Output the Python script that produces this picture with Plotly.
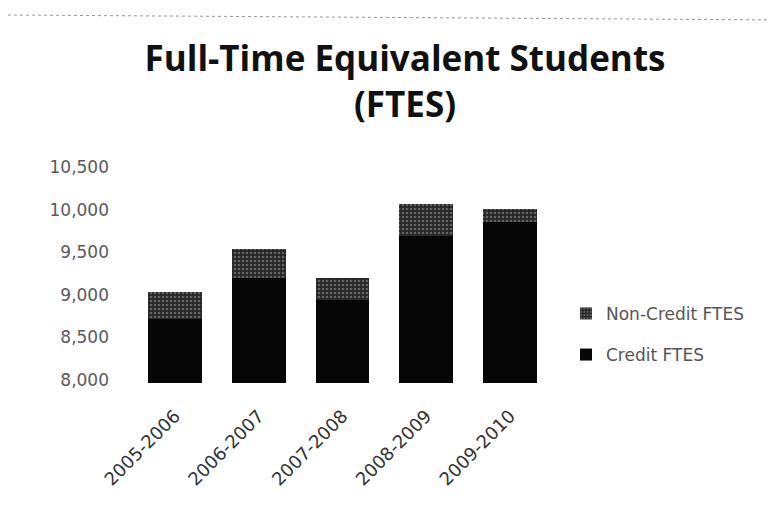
import plotly.graph_objects as go

categories = ["2005-2006", "2006-2007", "2007-2008", "2008-2009", "2009-2010"]
credit_ftes = [8720, 9200, 8935, 9690, 9860]
noncredit_ftes = [310, 340, 265, 380, 145]
y_ticks = [8000, 8500, 9000, 9500, 10000, 10500]
y_tick_labels = ["8,000", "8,500", "9,000", "9,500", "10,000", "10,500"]

L, R, T, B = 125, 234, 159, 150
PW = 778 - L - R
PH = 525 - T - B

fig = go.Figure()
fig.add_bar(
    name="Credit FTES", x=categories, y=credit_ftes,
    marker=dict(color="#060606", line=dict(width=0)),
    legendgroup="credit", legendrank=2,
)
fig.add_bar(
    name="Non-Credit FTES", x=categories, y=noncredit_ftes,
    marker=dict(color="#3a3a3a", line=dict(width=0),
                pattern=dict(shape=".", fgcolor="#a0a0a0", bgcolor="#262626",
                             size=4, solidity=0.35)),
    legendgroup="noncredit", legendrank=1,
)

fig.update_layout(
    width=778, height=525,
    barmode="stack", bargap=0.357,
    paper_bgcolor="white", plot_bgcolor="white",
    margin=dict(l=L, r=R, t=T, b=B),
    title=dict(
        text="<b>Full-Time Equivalent Students<br>(FTES)</b>",
        x=397 / 778, xanchor="center", xref="container",
        y=1 - 63 / 525, yanchor="top", yref="container",
        font=dict(family="Open Sans", size=35, color="#111"),
    ),
    legend=dict(
        x=(558 - L) / PW, y=0.225, xanchor="left", yanchor="middle",
        traceorder="grouped", tracegroupgap=16,
        font=dict(family="DejaVu Sans", size=17, color="#555"),
        bgcolor="rgba(0,0,0,0)",
    ),
    font=dict(family="DejaVu Sans", color="#555"),
    showlegend=True,
)
fig.update_xaxes(
    showgrid=False, showline=False, zeroline=False, ticks="",
    tickangle=-45, ticklabelstandoff=18,
    tickfont=dict(family="DejaVu Sans", size=18, color="#333"),
)
fig.update_yaxes(
    range=[7965, 10500], showgrid=False, showline=False, zeroline=False,
    ticks="", tickvals=y_ticks, ticktext=y_tick_labels, ticklabelstandoff=23,
    tickfont=dict(family="DejaVu Sans", size=17, color="#5a5a5a"),
)
fig.add_shape(
    type="line", xref="paper", yref="paper",
    x0=-L / PW, x1=(778 - L) / PW, y0=1 + (T - 7) / PH, y1=1 + (T - 12) / PH,
    line=dict(color="#999", width=1, dash="dot"),
)

fig.write_html("out.html")
